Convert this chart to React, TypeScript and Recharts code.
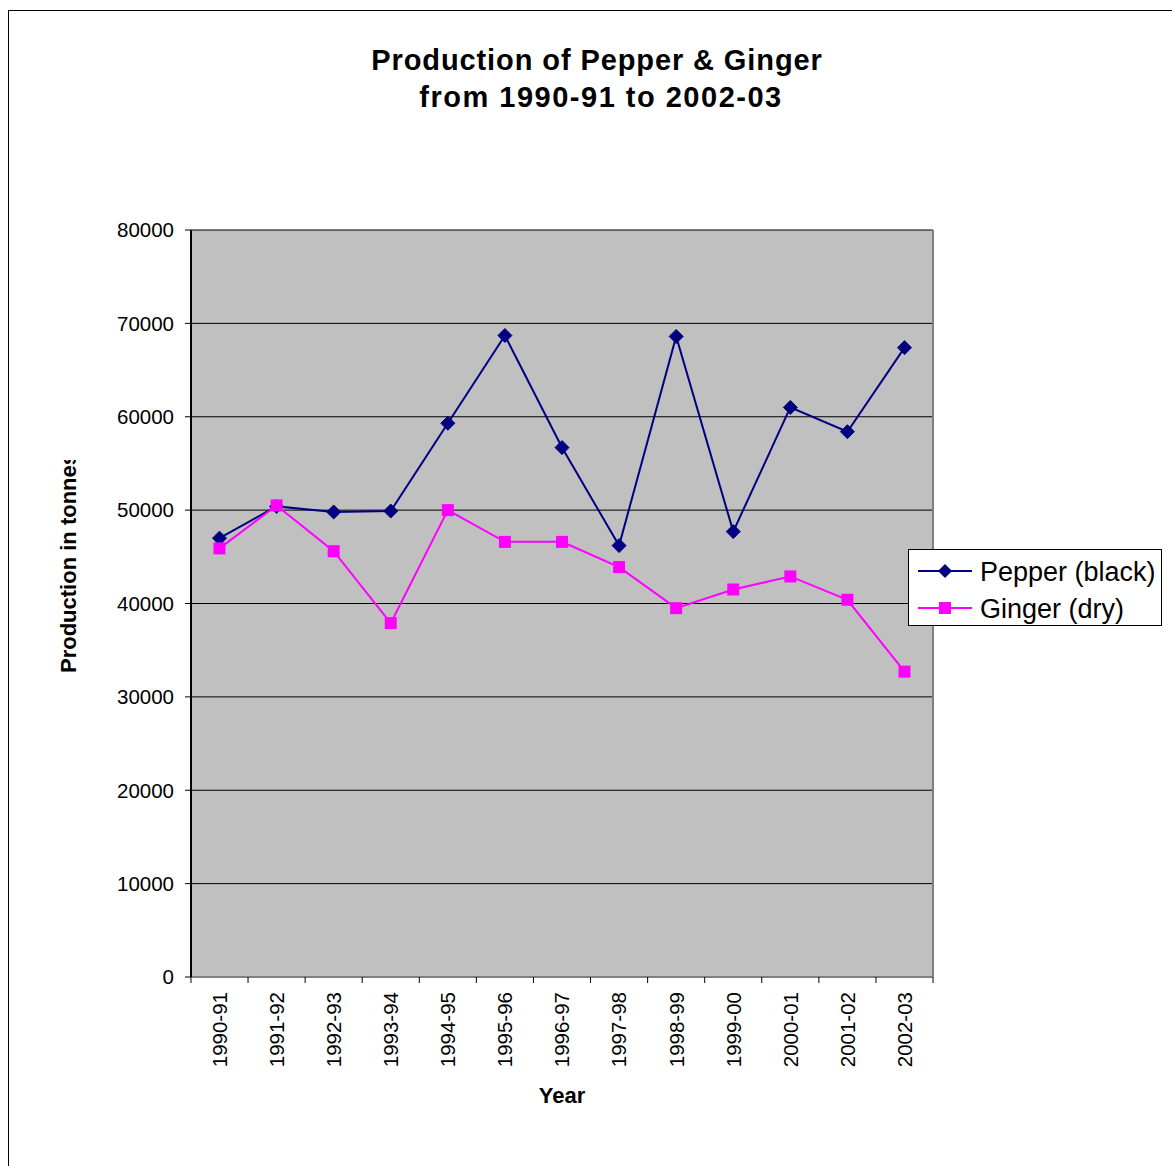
import React from 'react';
import { LineChart, Line, XAxis, YAxis, CartesianGrid, Legend } from 'recharts';

const years = ['1990-91', '1991-92', '1992-93', '1993-94', '1994-95', '1995-96', '1996-97', '1997-98', '1998-99', '1999-00', '2000-01', '2001-02', '2002-03'];
const pepper = [47000, 50400, 49800, 49900, 59300, 68700, 56700, 46200, 68600, 47700, 61000, 58400, 67400];
const ginger = [45900, 50500, 45600, 37900, 50000, 46600, 46600, 43900, 39500, 41500, 42900, 40400, 32700];
const yTicks = [0, 10000, 20000, 30000, 40000, 50000, 60000, 70000, 80000];
const titleLines = ['Production of Pepper & Ginger', 'from 1990-91 to 2002-03'];
const seriesNames = ['Pepper (black)', 'Ginger (dry)'];

const data = years.map((y, i) => ({ year: y, pepper: pepper[i], ginger: ginger[i] }));

const FONT = '"Liberation Sans", Arial, sans-serif';
const NAVY = '#000080';
const MAGENTA = '#FF00FF';

const DiamondDot = (p: any) => {
  const { cx, cy, index } = p;
  if (cx == null || cy == null) return <g key={index} />;
  const s = 7;
  return <polygon key={index} points={`${cx},${cy - s} ${cx + s},${cy} ${cx},${cy + s} ${cx - s},${cy}`} fill={NAVY} stroke={NAVY} strokeWidth={1} />;
};

const SquareDot = (p: any) => {
  const { cx, cy, index } = p;
  if (cx == null || cy == null) return <g key={index} />;
  const s = 6;
  return <rect key={index} x={cx - s} y={cy - s} width={2 * s} height={2 * s} fill={MAGENTA} />;
};

// Category tick: rotated label plus Excel-style tick marks on the category boundaries
const XTick = (p: any) => {
  const { x, y, payload, index, visibleTicksCount, width } = p;
  const band = width / visibleTicksCount;
  const axisY = y - 15;
  return (
    <g>
      <line x1={x - band / 2} x2={x - band / 2} y1={axisY} y2={axisY + 6} stroke="#000" strokeWidth={1} />
      {index === visibleTicksCount - 1 && (
        <line x1={x + band / 2} x2={x + band / 2} y1={axisY} y2={axisY + 6} stroke="#000" strokeWidth={1} />
      )}
      <text x={x} y={y} dy="0.36em" transform={`rotate(-90 ${x} ${y})`} textAnchor="end" fontFamily={FONT} fontSize={20.5} fill="#000">
        {payload.value}
      </text>
    </g>
  );
};

const LegendBox = () => (
  <div style={{ width: 254, height: 77, border: '1px solid #000', background: '#fff', boxSizing: 'border-box' }}>
    <svg width={252} height={75} style={{ display: 'block' }}>
      <line x1={9} x2={63} y1={21} y2={21} stroke={NAVY} strokeWidth={2} />
      <polygon points={`36,14 43,21 36,28 29,21`} fill={NAVY} />
      <text x={71} y={31} fontFamily={FONT} fontSize={27} fill="#000">{seriesNames[0]}</text>
      <line x1={9} x2={63} y1={58} y2={58} stroke={MAGENTA} strokeWidth={2} />
      <rect x={30} y={52} width={12} height={12} fill={MAGENTA} />
      <text x={71} y={68} fontFamily={FONT} fontSize={27} fill="#000">{seriesNames[1]}</text>
    </svg>
  </div>
);

export default function App() {
  return (
    <div style={{ position: 'fixed', left: 8, top: 10, width: 1164, height: 1156, borderLeft: '1px solid #000', borderTop: '1px solid #000', boxSizing: 'border-box', background: '#fff' }}>
      <LineChart width={1163} height={1155} data={data} margin={{ top: 219, right: 239, bottom: 89, left: 122 }}>
        <defs>
          <clipPath id="ylabelClip">
            <rect x={0} y={449} width={180} height={700} />
          </clipPath>
        </defs>
        <CartesianGrid fill="#C0C0C0" stroke="#000" strokeWidth={1} vertical={false} />
        <CartesianGrid
          fill="none"
          stroke="#808080"
          strokeWidth={2}
          horizontal={false}
          verticalCoordinatesGenerator={({ offset }: any) => [offset.left + offset.width]}
        />
        <XAxis
          dataKey="year"
          type="category"
          height={100}
          interval={0}
          padding={{ left: 28.5, right: 28.5 }}
          tickLine={false}
          axisLine={{ stroke: '#808080', strokeWidth: 2 }}
          tickSize={0}
          tickMargin={15}
          tick={<XTick />}
        />
        <YAxis
          domain={[0, 80000]}
          ticks={yTicks}
          width={60}
          tickSize={6}
          tickMargin={11}
          interval={0}
          axisLine={{ stroke: '#000', strokeWidth: 2 }}
          tickLine={{ stroke: '#000' }}
          tick={{ fontFamily: FONT, fontSize: 20.5, fill: '#000' }}
        />
        <Legend
          layout="horizontal"
          verticalAlign="middle"
          align="center"
          content={<LegendBox />}
          wrapperStyle={{ left: 899, top: 538, width: 254, height: 77 }}
        />
        <Line dataKey="pepper" name={seriesNames[0]} stroke={NAVY} strokeWidth={2} dot={DiamondDot} activeDot={false} isAnimationActive={false} />
        <Line dataKey="ginger" name={seriesNames[1]} stroke={MAGENTA} strokeWidth={2} dot={SquareDot} activeDot={false} isAnimationActive={false} />
        <text x={588} y={59} textAnchor="middle" fontFamily={FONT} fontWeight="bold" fontSize={29} letterSpacing={0.9} fill="#000">{titleLines[0]}</text>
        <text x={592} y={96} textAnchor="middle" fontFamily={FONT} fontWeight="bold" fontSize={29} letterSpacing={1.5} fill="#000">{titleLines[1]}</text>
        <g clipPath="url(#ylabelClip)">
          <text x={67} y={662} transform="rotate(-90 67 662)" textAnchor="start" fontFamily={FONT} fontWeight="bold" fontSize={22} fill="#000">Production in tonnes</text>
        </g>
        <text x={553} y={1092} textAnchor="middle" fontFamily={FONT} fontWeight="bold" fontSize={22} fill="#000">Year</text>
      </LineChart>
    </div>
  );
}
